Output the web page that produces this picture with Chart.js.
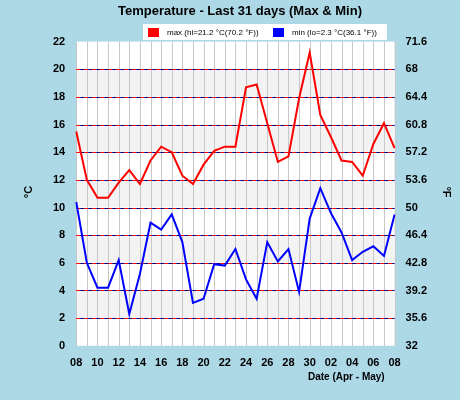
<!DOCTYPE html><html><head><script src="https://cdn.jsdelivr.net/npm/chart.js"></script>
<style>body{margin:0;background:#add8e6}#w{width:460px;height:400px}</style></head><body><div id="w"><canvas id="c"></canvas></div>
<script>
const labels=['08','09','10','11','12','13','14','15','16','17','18','19','20','21','22','23','24','25','26','27','28','29','30','01','02','03','04','05','06','07','08'];
const maxT=[15.5,12,10.7,10.7,11.8,12.7,11.7,13.4,14.4,14,12.3,11.7,13.1,14.1,14.4,14.4,18.7,18.9,16.1,13.3,13.7,17.9,21.2,16.7,15.1,13.4,13.3,12.3,14.6,16.1,14.3];
const minT=[10.4,6,4.2,4.2,6.2,2.3,5.2,8.9,8.4,9.5,7.5,3.1,3.4,5.9,5.8,7,4.8,3.4,7.5,6.1,7,3.9,9.2,11.4,9.6,8.2,6.2,6.8,7.2,6.5,9.5];
const bands=[[2,4],[6,8],[10,12],[14,16],[18,20]];
const bg={id:'bg',beforeDatasetsDraw(ch){const {ctx,chartArea:a,scales:{x,y}}=ch;ctx.save();ctx.fillStyle='#fff';ctx.fillRect(a.left,a.top,a.width,a.height);
ctx.fillStyle='#f3f3f3';bands.forEach(b=>{const t=y.getPixelForValue(b[1]),bo=y.getPixelForValue(b[0]);ctx.fillRect(a.left,t,a.width,bo-t);});
ctx.strokeStyle='#c8c8c8';ctx.lineWidth=1;labels.forEach((l,i)=>{const px=Math.round(x.getPixelForValue(i))+0.5;ctx.beginPath();ctx.moveTo(px,a.top);ctx.lineTo(px,a.bottom);ctx.stroke();});
for(let v=2;v<22;v+=2){const py=Math.round(y.getPixelForValue(v))+0.5;ctx.strokeStyle='#ff0000';ctx.setLineDash([4,4]);ctx.beginPath();ctx.moveTo(a.left,py);ctx.lineTo(a.right,py);ctx.stroke();ctx.strokeStyle='#000080';ctx.lineDashOffset=4;ctx.beginPath();ctx.moveTo(a.left,py);ctx.lineTo(a.right,py);ctx.stroke();ctx.lineDashOffset=0;}
ctx.setLineDash([]);ctx.restore();},
afterDraw(ch){const {ctx,chartArea:a}=ch;ctx.save();ctx.fillStyle='#000';ctx.font='bold 10px Liberation Sans';ctx.textAlign='left';ctx.fillText('Date (Apr - May)',308,380);
ctx.font='bold 11px Liberation Sans';ctx.translate(32,192);ctx.rotate(-Math.PI/2);ctx.textAlign='center';ctx.fillText('°C',0,0);ctx.restore();
ctx.save();ctx.font='bold 11px Liberation Sans';ctx.translate(443,192);ctx.rotate(Math.PI/2);ctx.textAlign='center';ctx.fillText('°F',0,0);ctx.restore();
ctx.save();ctx.fillStyle='#fff';ctx.fillRect(143,24,244,16);ctx.fillStyle='#ff0000';ctx.fillRect(148,28,11,9);ctx.fillStyle='#0000ff';ctx.fillRect(273,28,11,9);
ctx.fillStyle='#000';ctx.font='8px Liberation Sans';ctx.textBaseline='middle';ctx.fillText('max (hi=21.2 °C(70.2 °F))',167,33);ctx.fillText('min (lo=2.3 °C(36.1 °F))',292,33);ctx.restore();}};
new Chart(document.getElementById('c'),{type:'line',data:{labels,datasets:[
{data:maxT,borderColor:'#ff0000',borderWidth:2,pointRadius:0,tension:0},
{data:minT,borderColor:'#0000ff',borderWidth:2,pointRadius:0,tension:0}]},
options:{responsive:true,maintainAspectRatio:false,animation:false,layout:{padding:{top:4,left:50,right:30,bottom:27}},
plugins:{legend:{display:false},tooltip:{enabled:false},title:{display:true,text:'Temperature - Last 31 days (Max & Min)',color:'#000',font:{family:'Liberation Sans',size:13,weight:'bold'},padding:{top:0,bottom:22}}},
scales:{x:{offset:false,grid:{display:false},border:{color:'#c8c8c8'},ticks:{autoSkip:false,maxRotation:0,color:'#000',font:{family:'Liberation Sans',size:11,weight:'bold'},callback:(v,i)=>i%2===0?labels[i]:''}},
y:{min:0,max:22,grid:{display:false},border:{display:false},ticks:{stepSize:2,color:'#000',font:{family:'Liberation Sans',size:11,weight:'bold'}}},
y2:{position:'right',min:32,max:71.6,grid:{display:false},border:{display:false},ticks:{stepSize:3.6,color:'#000',font:{family:'Liberation Sans',size:11,weight:'bold'},callback:v=>(Math.round(v*10)/10).toString()}}}},plugins:[bg]});
</script></body></html>
